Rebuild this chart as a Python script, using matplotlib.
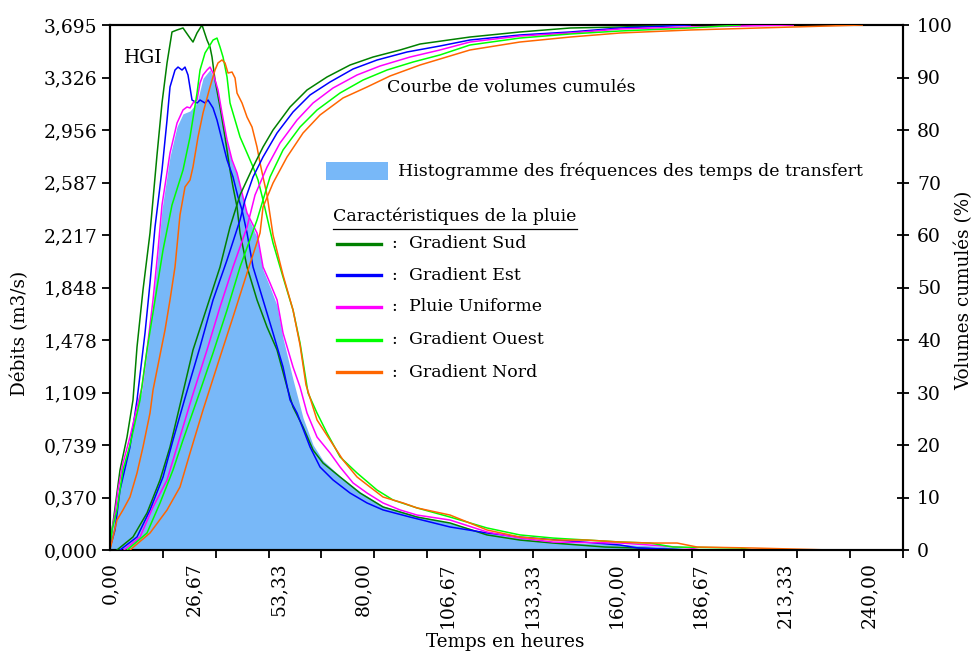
import matplotlib
matplotlib.use("Agg")
import matplotlib.pyplot as plt
from matplotlib.patches import Rectangle
from matplotlib.lines import Line2D
import numpy as np

plt.rcParams['font.family'] = ['DejaVu Serif']
FS = 12.5
FST = 13.5
FSA = 13.2

# ---------------- data ----------------
# Hydrographs: time (h) / discharge (m3/s)
sud_t = [0, 0.95, 3.16, 5.38, 7.27, 8.54, 10.43, 12.65, 14.86, 16.44, 18.03, 19.60, 21.19, 23.08, 25.30,
         26.24, 27.51, 29.09, 30.67, 31.62, 32.25, 33.20, 34.78, 36.36, 37.94, 38.89, 40.16, 41.11, 43.32,
         46.48, 49.65, 52.81, 55.97, 57.86, 61.03, 64.19, 67.35, 72.73, 79.05, 86.32, 97.07, 107.5, 119.2,
         129.6, 140.1, 156.5, 167.0, 181.2]
sud_q = [0.035, 0.190, 0.563, 0.795, 1.056, 1.429, 1.830, 2.231, 2.780, 3.146, 3.428, 3.646, 3.660, 3.674,
         3.603, 3.575, 3.639, 3.695, 3.589, 3.540, 3.470, 3.308, 3.118, 2.907, 2.674, 2.555, 2.414, 2.231,
         1.992, 1.760, 1.569, 1.408, 1.147, 1.006, 0.866, 0.704, 0.612, 0.514, 0.401, 0.303, 0.232, 0.190,
         0.106, 0.070, 0.049, 0.021, 0.014, 0.0]

est_t = [0, 1.58, 3.16, 6.32, 8.54, 11.07, 12.65, 14.23, 16.44, 18.03, 18.97, 20.55, 21.50, 22.77, 23.71,
         24.66, 25.93, 27.51, 28.46, 30.04, 30.99, 32.57, 33.83, 35.41, 37.00, 38.89, 40.47, 41.74, 43.32,
         45.22, 48.38, 51.54, 54.70, 56.92, 59.13, 63.24, 66.40, 70.51, 75.89, 81.26, 86.32, 94.86, 107.5,
         119.2, 129.6, 161.3, 167.0, 183.4]
est_q = [0.014, 0.141, 0.422, 0.725, 1.056, 1.527, 1.879, 2.273, 2.674, 3.026, 3.259, 3.378, 3.399, 3.378,
         3.399, 3.343, 3.167, 3.146, 3.167, 3.146, 3.167, 3.111, 3.026, 2.886, 2.745, 2.625, 2.484, 2.393,
         2.231, 1.992, 1.760, 1.527, 1.288, 1.056, 0.964, 0.725, 0.584, 0.493, 0.401, 0.331, 0.282, 0.232,
         0.162, 0.120, 0.091, 0.035, 0.014, 0.0]

unif_t = [0, 1.58, 2.53, 4.11, 6.32, 8.54, 10.12, 11.70, 13.60, 15.18, 16.44, 18.97, 21.19, 23.08, 24.35,
          25.30, 26.24, 27.51, 28.46, 29.41, 30.67, 31.62, 32.57, 34.15, 35.41, 37.00, 38.58, 40.16, 41.74,
          43.32, 46.48, 48.38, 50.59, 52.81, 54.70, 57.86, 60.08, 62.29, 65.45, 69.56, 72.73, 76.84, 81.26,
          86.32, 91.70, 97.07, 107.5, 119.2, 129.6, 140.1, 161.3, 170.7, 183.4, 186.6, 227.7]
unif_q = [0.070, 0.260, 0.422, 0.612, 0.795, 1.006, 1.147, 1.408, 1.760, 2.111, 2.428, 2.794, 3.005, 3.097,
          3.118, 3.111, 3.146, 3.167, 3.287, 3.343, 3.378, 3.399, 3.357, 3.237, 3.076, 2.886, 2.745, 2.653,
          2.513, 2.372, 2.231, 1.992, 1.879, 1.760, 1.527, 1.288, 1.147, 0.964, 0.795, 0.683, 0.584, 0.472,
          0.401, 0.331, 0.282, 0.246, 0.211, 0.127, 0.084, 0.056, 0.049, 0.035, 0.014, 0.0, 0.0]

ouest_t = [0, 0.63, 2.21, 4.11, 6.32, 9.49, 11.70, 14.23, 16.76, 19.60, 23.08, 25.30, 27.51, 28.46, 30.04,
           31.62, 32.57, 33.83, 34.78, 35.73, 37.00, 37.94, 39.53, 41.11, 43.32, 45.22, 46.80, 48.38, 51.54,
           54.70, 57.86, 60.08, 62.61, 65.45, 68.61, 72.73, 78.10, 84.42, 89.48, 97.07, 107.5, 119.2, 129.6,
           140.1, 150.8, 161.3, 170.7, 178.0, 199.2, 203.3]
ouest_q = [0.035, 0.141, 0.282, 0.563, 0.739, 1.056, 1.408, 1.760, 2.111, 2.428, 2.674, 2.907, 3.216, 3.378,
           3.498, 3.554, 3.589, 3.603, 3.540, 3.470, 3.329, 3.146, 3.026, 2.907, 2.794, 2.696, 2.604, 2.463,
           2.161, 1.921, 1.689, 1.457, 1.105, 0.964, 0.823, 0.655, 0.542, 0.422, 0.352, 0.296, 0.232, 0.155,
           0.106, 0.084, 0.070, 0.056, 0.049, 0.021, 0.014, 0.0]

nord_t = [0, 2.21, 4.11, 6.32, 8.54, 10.43, 12.65, 13.60, 15.81, 17.39, 18.97, 20.55, 22.13, 23.71, 25.30,
          26.24, 27.83, 29.41, 31.62, 33.20, 34.15, 35.41, 36.36, 37.31, 38.58, 39.53, 40.16, 41.74, 43.32,
          44.90, 46.48, 47.43, 48.38, 49.65, 51.54, 54.70, 57.86, 60.08, 61.97, 65.45, 69.56, 73.67, 78.10,
          82.21, 86.32, 92.65, 97.07, 107.5, 119.2, 129.6, 140.1, 150.8, 161.3, 170.7, 179.3, 185.6, 203.3,
          227.7, 250.7]
nord_q = [0.0, 0.211, 0.282, 0.373, 0.542, 0.725, 0.964, 1.126, 1.372, 1.548, 1.760, 1.992, 2.358, 2.555,
          2.604, 2.696, 2.907, 3.076, 3.259, 3.378, 3.428, 3.449, 3.428, 3.357, 3.364, 3.322, 3.216, 3.146,
          3.047, 2.977, 2.836, 2.724, 2.625, 2.498, 2.217, 1.935, 1.689, 1.443, 1.161, 0.915, 0.774, 0.633,
          0.514, 0.443, 0.373, 0.331, 0.296, 0.246, 0.141, 0.091, 0.070, 0.070, 0.056, 0.049, 0.049, 0.021,
          0.014, 0.0, 0.0]

# Histogram of transfer-time frequencies
hist_t = [0, 1.58, 2.53, 4.11, 6.32, 8.54, 10.12, 11.70, 13.60, 15.18, 16.44, 18.97, 21.19, 23.08, 25.30,
          27.51, 29.41, 31.62, 33.20, 35.41, 37.00, 38.58, 40.16, 41.74, 43.32, 46.48, 48.38, 50.59, 52.81,
          54.70, 57.86, 61.03, 64.19, 67.35, 72.73, 79.05, 86.32, 97.07, 107.5, 119.2, 129.6, 140.1, 161.3,
          175.0, 183.0, 186.6]
hist_q = [0.05, 0.24, 0.40, 0.59, 0.78, 0.99, 1.13, 1.39, 1.74, 2.09, 2.40, 2.77, 2.98, 3.07, 3.09, 3.15,
          3.32, 3.38, 3.30, 3.05, 2.87, 2.73, 2.64, 2.50, 2.36, 2.20, 1.97, 1.85, 1.72, 1.49, 1.20, 0.93,
          0.74, 0.63, 0.52, 0.41, 0.31, 0.24, 0.19, 0.12, 0.085, 0.055, 0.04, 0.025, 0.01, 0.0]

# Cumulative volumes (%)
sud_ct = [2.21, 7.27, 11.70, 15.81, 18.97, 22.13, 26.24, 30.67, 34.78, 37.94, 41.11, 45.22, 48.38, 51.54,
          56.92, 62.29, 68.61, 75.89, 83.16, 91.70, 98.02, 113.8, 129.6, 145.5, 161.3, 181.2]
sud_cv = [0, 2.48, 7.05, 13.33, 19.62, 27.62, 38.10, 46.29, 53.90, 61.52, 67.62, 72.95, 76.76, 80.00,
          84.38, 87.62, 90.10, 92.38, 93.90, 95.24, 96.38, 97.71, 98.67, 99.43, 99.62, 100]

est_ct = [3.16, 8.54, 12.65, 16.76, 19.92, 23.71, 28.46, 32.57, 37.00, 41.11, 42.69, 45.22, 48.38, 52.81,
          57.86, 63.24, 69.56, 76.84, 84.42, 93.91, 104.3, 113.8, 129.6, 145.5, 161.3, 183.4]
est_cv = [0, 2.48, 7.62, 13.90, 20.95, 28.95, 38.67, 47.62, 55.24, 62.86, 66.67, 71.05, 74.86, 79.43,
          83.43, 86.67, 89.14, 91.62, 93.33, 94.86, 96.00, 97.14, 98.10, 98.67, 99.43, 100]

unif_ct = [4.43, 9.49, 13.60, 18.03, 22.13, 25.93, 30.67, 34.78, 38.89, 43.32, 45.85, 49.65, 53.75, 59.13,
           64.19, 70.51, 78.10, 85.37, 94.86, 104.3, 113.8, 129.6, 145.5, 161.3, 183.4, 216.0]
unif_cv = [0, 2.48, 8.19, 13.33, 21.52, 29.14, 38.10, 46.29, 53.90, 61.52, 67.62, 72.95, 77.52, 81.90,
           85.14, 88.00, 90.48, 92.19, 93.90, 95.24, 96.76, 97.90, 98.48, 99.24, 99.62, 100]

ouest_ct = [5.38, 11.70, 15.81, 19.92, 23.08, 27.51, 32.57, 37.00, 41.11, 46.48, 48.38, 50.59, 54.70, 60.08,
            65.45, 72.73, 80.00, 87.59, 95.81, 104.3, 113.8, 129.6, 145.5, 161.3, 183.4, 199.2]
ouest_cv = [0, 3.24, 8.95, 15.24, 20.95, 28.57, 37.52, 45.71, 53.90, 62.86, 66.67, 71.05, 76.19, 80.57,
            83.81, 87.05, 89.52, 91.43, 92.95, 94.29, 96.19, 97.52, 98.29, 98.86, 99.43, 100]

nord_ct = [6.32, 12.65, 18.03, 22.13, 25.30, 29.41, 34.78, 38.89, 43.32, 47.43, 48.38, 51.54, 55.97, 61.03,
           66.40, 73.67, 81.26, 88.54, 98.02, 113.8, 129.6, 145.5, 161.3, 183.4, 216.0, 237.8]
nord_cv = [0, 3.24, 7.62, 12.00, 18.48, 26.67, 36.76, 44.38, 52.76, 60.38, 65.33, 69.90, 74.86, 79.43,
           82.86, 86.10, 88.19, 90.29, 92.38, 95.24, 96.76, 97.71, 98.48, 99.05, 99.62, 100]

series_names = ["Gradient Sud", "Gradient Est", "Pluie Uniforme", "Gradient Ouest", "Gradient Nord"]
series_colors = ["#008000", "#0000FF", "#FF00FF", "#00FF00", "#FF6600"]
hydro = [(sud_t, sud_q), (est_t, est_q), (unif_t, unif_q), (ouest_t, ouest_q), (nord_t, nord_q)]
cumul = [(sud_ct, sud_cv), (est_ct, est_cv), (unif_ct, unif_cv), (ouest_ct, ouest_cv), (nord_ct, nord_cv)]

x_labels = ["0,00", "26,67", "53,33", "80,00", "106,67", "133,33", "160,00", "186,67", "213,33", "240,00"]
x_label_pos = [0, 26.67, 53.33, 80.0, 106.67, 133.33, 160.0, 186.67, 213.33, 240.0]
y_left_labels = ["0,000", "0,370", "0,739", "1,109", "1,478", "1,848", "2,217", "2,587", "2,956", "3,326", "3,695"]
y_right_labels = ["0", "10", "20", "30", "40", "50", "60", "70", "80", "90", "100"]

XMAX = 250.7
QMAX = 3.695

# ---------------- figure ----------------
fig = plt.figure(figsize=(9.78, 6.53), dpi=100)
ax = fig.add_axes([110/978, 1-550/653, 793/978, 525/653])
ax2 = ax.twinx()

ax.fill_between(hist_t, hist_q, 0, color="#78B8F8", lw=0, zorder=1)
for (t, q), c in zip(hydro, series_colors):
    ax.plot(t, q, color=c, lw=1.1, zorder=3)
for (t, v), c in zip(cumul, series_colors):
    ax2.plot(t, v, color=c, lw=1.1, zorder=3)

ax.set_xlim(0, XMAX)
ax.set_ylim(0, QMAX)
ax2.set_ylim(0, 100)

ax.set_yticks(np.linspace(0, QMAX, 11))
ax.set_yticklabels(y_left_labels, fontsize=FST)
ax2.set_yticks(np.linspace(0, 100, 11))
ax2.set_yticklabels(y_right_labels, fontsize=FST)
ax.set_xticks(x_label_pos)
ax.set_xticklabels(x_labels, rotation=90, fontsize=FST)
ax.set_xticks(np.linspace(0, XMAX, 16), minor=True)
ax.tick_params(axis='x', which='major', length=0, pad=9)
ax.tick_params(axis='x', which='minor', length=6, width=1.3, direction='out')
ax.tick_params(axis='y', which='major', length=6, width=1.3, direction='out', pad=3)
ax2.tick_params(axis='y', which='major', length=8, width=1.3, direction='inout', pad=6)

for a in (ax, ax2):
    for s in a.spines.values():
        s.set_linewidth(1.5)
        s.set_color('black')

# axis titles
fig.text(505/978, 1-642/653, "Temps en heures", fontsize=FSA, ha='center', va='center')
fig.text(20/978, 1-333/653, "Débits (m3/s)", fontsize=FSA, ha='center', va='center', rotation=90)
fig.text(964/978, 1-290/653, "Volumes cumulés (%)", fontsize=FSA, ha='center', va='center', rotation=90)

# annotations
ax.text(0.0177, 0.9371, "HGI", transform=ax.transAxes, fontsize=FST, va='center', ha='left')
ax.text(0.3493, 0.880, "Courbe de volumes cumulés", transform=ax.transAxes, fontsize=FS, va='center', ha='left')

# legend (drawn manually)
ax.add_patch(Rectangle((0.2724, 0.7048), 0.0782, 0.0342, transform=ax.transAxes,
                       facecolor="#78B8F8", edgecolor='none', zorder=5, clip_on=False))
ax.text(0.3632, 0.7219, "Histogramme des fréquences des temps de transfert", transform=ax.transAxes,
        fontsize=FS, va='center', ha='left', zorder=5)
ax.text(0.2812, 0.6362, "Caractéristiques de la pluie", transform=ax.transAxes,
        fontsize=FS, va='center', ha='left', zorder=5)
ax.add_line(Line2D([0.2812, 0.5895], [0.612, 0.612], transform=ax.transAxes, color='black', lw=0.9))
rows_y = [0.5829, 0.5238, 0.4629, 0.4000, 0.3390]
for name, c, yy in zip(series_names, series_colors, rows_y):
    ax.add_line(Line2D([0.2863, 0.3417], [yy, yy], transform=ax.transAxes, color=c, lw=2.4, zorder=5))
    ax.text(0.3581, yy, ":", transform=ax.transAxes, fontsize=FS, va='center', ha='center', zorder=5)
    ax.text(0.3770, yy, name, transform=ax.transAxes, fontsize=FS, va='center', ha='left', zorder=5)

fig.savefig("out.png", dpi=100)
